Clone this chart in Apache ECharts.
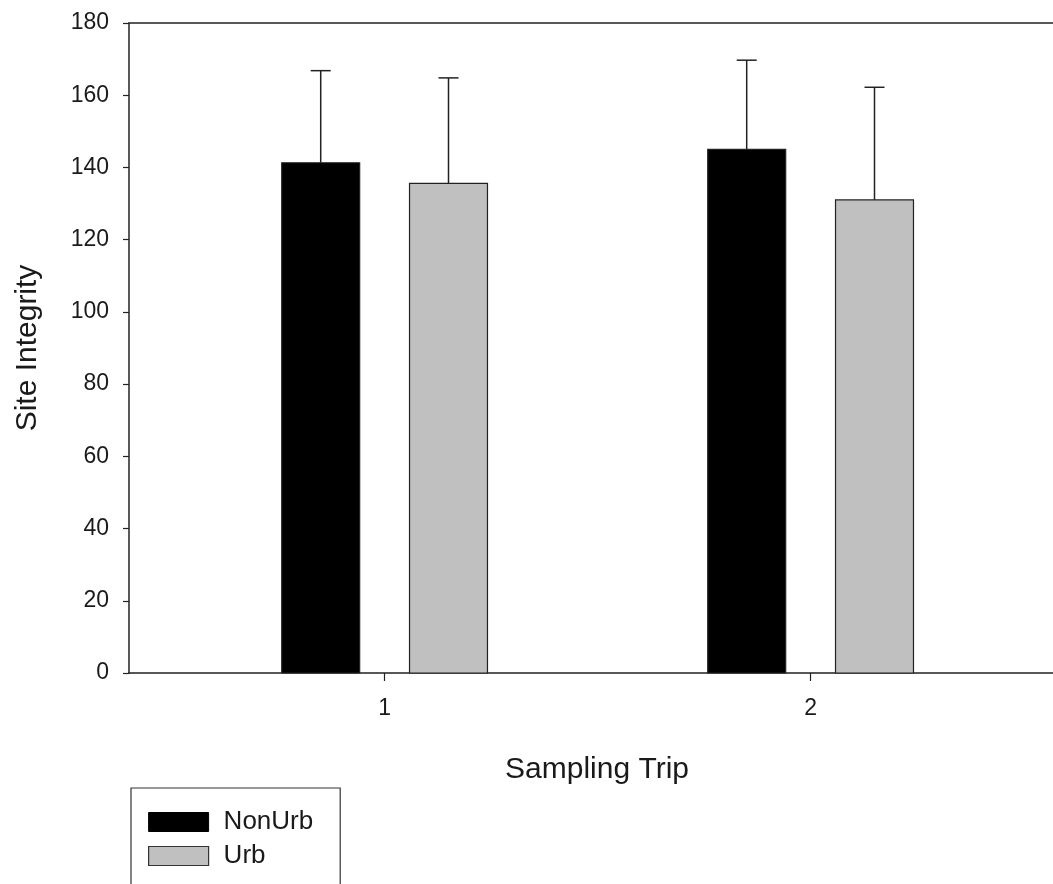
<!DOCTYPE html>
<html>
<head>
<meta charset="utf-8">
<script src="https://cdn.jsdelivr.net/npm/echarts@6/dist/echarts.min.js"></script>
<style>
html,body{margin:0;padding:0;background:#fff;}
#chart{width:1053px;height:884px;}
</style>
</head>
<body>
<div id="chart"></div>
<script>
// Data
const trips = [1, 2];
const yTicks = [0, 20, 40, 60, 80, 100, 120, 140, 160, 180];
const nonUrbMean = [141.3, 145.0];
const nonUrbErr = [25.5, 24.7];
const urbMean = [135.6, 131.0];
const urbErr = [29.2, 31.2];

const FONT = 'Liberation Sans, Arial, sans-serif';
const INK = '#1a1a1a';

function makeRender(side, fill) {
  return function (params, api) {
    const x = api.value(0), m = api.value(1), e = api.value(2);
    const unit = api.size([1, 0])[0];
    const base = api.coord([x, 0]);
    const cx = base[0] + side * 0.15 * unit;
    const w = 0.183 * unit;
    const top = api.coord([x, m])[1];
    const etop = api.coord([x, m + e])[1];
    return {
      type: 'group',
      children: [
        { type: 'rect', shape: { x: cx - w / 2, y: top, width: w, height: base[1] - top },
          style: { fill: fill, stroke: '#222', lineWidth: 1.2 } },
        { type: 'line', shape: { x1: cx, y1: top, x2: cx, y2: etop },
          style: { stroke: '#222', lineWidth: 1.5 } },
        { type: 'line', shape: { x1: cx - 10, y1: etop, x2: cx + 10, y2: etop },
          style: { stroke: '#222', lineWidth: 1.5 } }
      ]
    };
  };
}

const nonUrbData = trips.map((t, i) => [t, nonUrbMean[i], nonUrbErr[i]]);
const urbData = trips.map((t, i) => [t, urbMean[i], urbErr[i]]);

const chart = echarts.init(document.getElementById('chart'), null, { renderer: 'canvas' });
chart.setOption({
  animation: false,
  backgroundColor: '#fff',
  textStyle: { fontFamily: FONT, color: INK },
  grid: { left: 129, top: 23, bottom: 211, right: 0 },
  legend: {
    orient: 'vertical',
    left: 131, top: 788, height: 70,
    padding: [21, 27, 30, 17],
    borderColor: '#333', borderWidth: 1.2,
    itemWidth: 60, itemHeight: 19, itemGap: 8,
    icon: 'rect',
    textStyle: { fontFamily: FONT, fontSize: 26, color: INK, padding: [0, 0, 0, 10] },
    data: [
      { name: 'NonUrb', itemStyle: { color: '#000', borderColor: '#000', borderWidth: 1 } },
      { name: 'Urb', itemStyle: { color: '#c0c0c0', borderColor: '#333', borderWidth: 1.2 } }
    ]
  },
  xAxis: [{
    type: 'value',
    min: 0.4, max: 2.569,
    name: 'Sampling Trip',
    nameLocation: 'middle',
    nameGap: 82,
    nameTextStyle: { fontFamily: FONT, fontSize: 30, color: INK, padding: [0, 0, 0, 12] },
    axisLine: { show: true, lineStyle: { color: '#222', width: 1.5 } },
    axisTick: { show: true, length: 8, customValues: trips, lineStyle: { color: '#222', width: 1.2 } },
    axisLabel: { show: true, customValues: trips, fontSize: 23, color: INK, margin: 24, fontFamily: FONT },
    splitLine: { show: false }
  }, {
    type: 'value',
    position: 'top',
    min: 0.4, max: 2.569,
    axisLine: { show: true, onZero: false, lineStyle: { color: '#222', width: 1.5 } },
    axisTick: { show: false },
    axisLabel: { show: false },
    splitLine: { show: false }
  }],
  yAxis: {
    type: 'value',
    min: 0, max: 180, interval: 20,
    name: 'Site Integrity',
    nameLocation: 'middle',
    nameRotate: 90,
    nameGap: 86,
    nameTextStyle: { fontFamily: FONT, fontSize: 30, color: INK },
    axisLine: { show: true, lineStyle: { color: '#222', width: 1.5 } },
    axisTick: { show: true, length: 6, inside: false, lineStyle: { color: '#222', width: 1.2 } },
    axisLabel: { fontSize: 23, color: INK, margin: 20, fontFamily: FONT,
      formatter: v => (yTicks.indexOf(v) >= 0 ? String(v) : '') },
    splitLine: { show: false }
  },
  series: [
    { name: 'NonUrb', type: 'custom', renderItem: makeRender(-1, '#000'),
      itemStyle: { color: '#000' }, encode: { x: 0, y: 1 }, data: nonUrbData, clip: false },
    { name: 'Urb', type: 'custom', renderItem: makeRender(1, '#c0c0c0'),
      itemStyle: { color: '#c0c0c0' }, encode: { x: 0, y: 1 }, data: urbData, clip: false }
  ]
});
</script>
</body>
</html>
